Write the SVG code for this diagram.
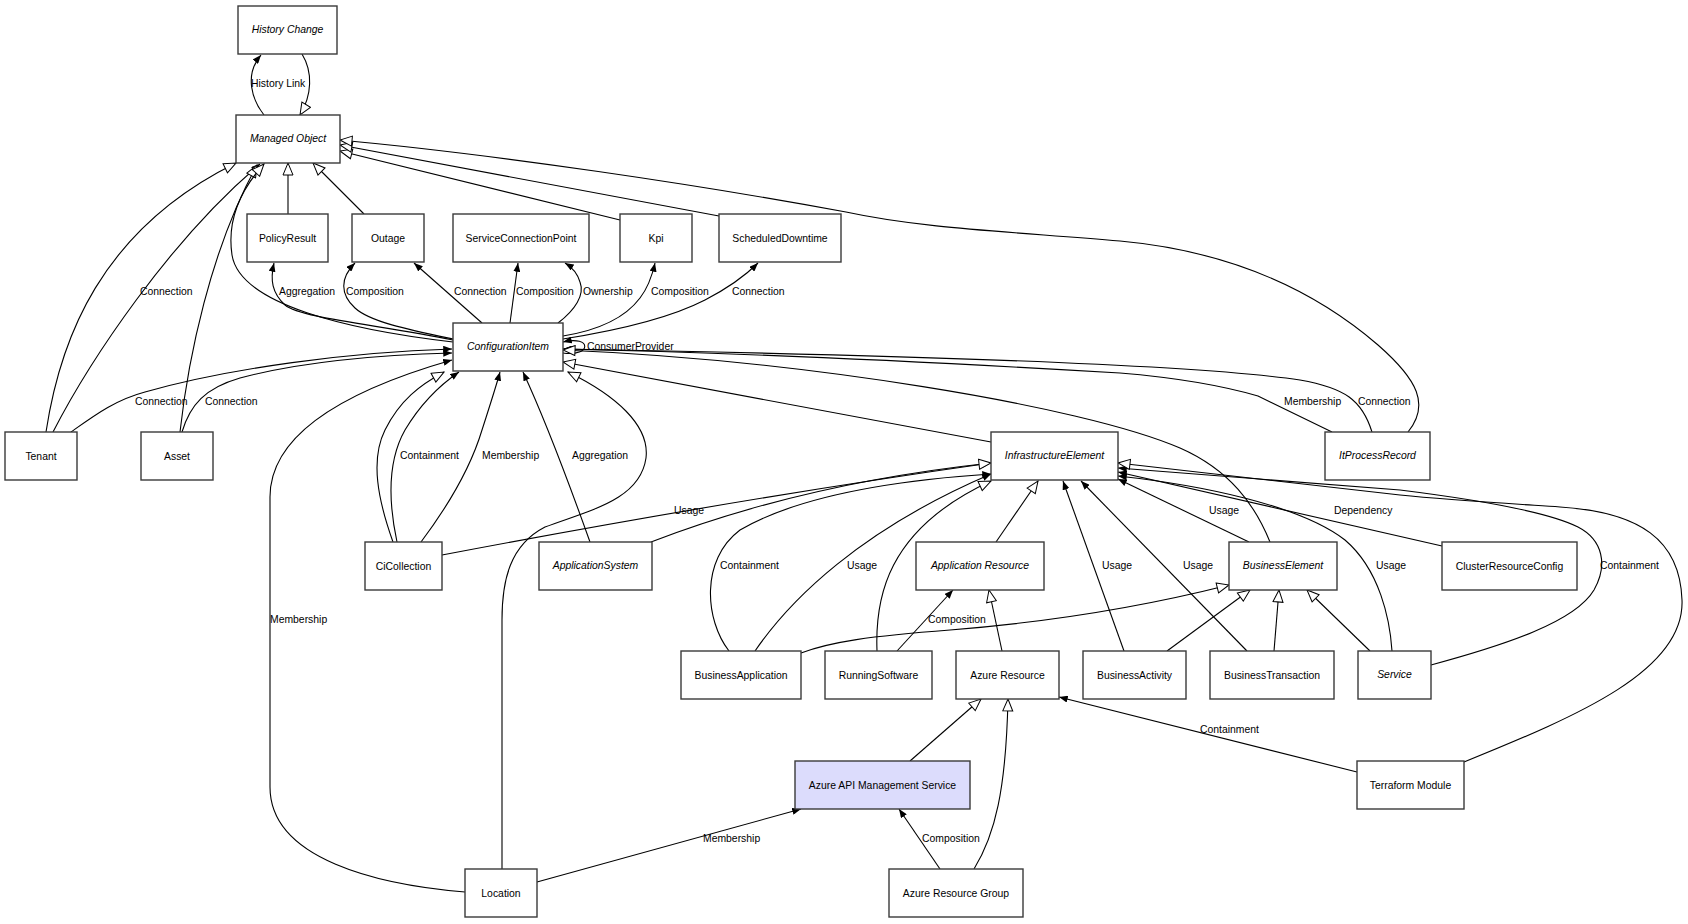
<svg xmlns="http://www.w3.org/2000/svg" width="1688" height="924" viewBox="0 0 1688 924">
<style>
.n rect{fill:#fff;stroke:#3a3a3a;stroke-width:1.4}
.n text{font-family:"Liberation Sans",Arial,sans-serif;font-size:10.4px;fill:#000;text-anchor:middle}
.n text.i{font-style:italic}
#edges path{fill:none;stroke:#000;stroke-width:1.1}
.f{marker-end:url(#a)}
.g{marker-end:url(#g)}
.l{font-family:"Liberation Sans",Arial,sans-serif;font-size:10.4px;fill:#000}
</style>
<defs>
<marker id="a" viewBox="0 0 10 8" refX="10" refY="4" markerWidth="9" markerHeight="7" orient="auto" markerUnits="userSpaceOnUse"><path d="M0,0 L10,4 L0,8 z" fill="#000"/></marker>
<marker id="g" viewBox="0 0 14 12" refX="13" refY="6" markerWidth="14" markerHeight="12" orient="auto" markerUnits="userSpaceOnUse"><path d="M1,1 L13,6 L1,11 z" fill="#fff" stroke="#000" stroke-width="1"/></marker>
</defs>
<rect width="1688" height="924" fill="#fff"/>
<g id="edges">
<path class="f" d="M264,115 C252,100 244,75 261,55"/>
<path class="g" d="M302,54 C313,72 312,95 300,115"/>
<path class="g" d="M288,214 L288,163"/>
<path class="g" d="M364,214 L313,163"/>
<path class="g" d="M620,220 L340,151"/>
<path class="g" d="M719,216 L340,145"/>
<path class="g" d="M1408,432 C1430,405 1418,380 1378,345 C1320,295 1240,252 1120,241 C1000,231 920,228 846,212 C700,185 500,155 340,140"/>
<path class="g" d="M46,432 C60,340 100,230 236,163"/>
<path class="f" d="M53,432 C90,360 170,240 260,164"/>
<path class="g" d="M180,432 C188,360 210,250 257,165"/>
<path class="g" d="M453,342 C350,330 240,305 232,255 C226,215 245,185 264,164"/>
<path class="f" d="M453,340 C380,325 300,318 285,305 C272,293 270,280 274,263"/>
<path class="f" d="M453,339 C410,330 370,322 355,308 C340,294 340,278 355,263"/>
<path class="f" d="M482,323 L414,263"/>
<path class="f" d="M510,323 L518,263"/>
<path class="f" d="M558,323 C575,310 585,295 580,282 C577,272 570,266 565,263"/>
<path class="f" d="M563,336 C600,330 625,318 640,298 C650,285 653,272 655,263"/>
<path class="f" d="M563,339 C620,330 670,318 705,300 C730,287 748,273 758,263"/>
<path class="f" d="M563,353 C592,357 592,335 563,342"/>
<path class="f" d="M1372,432 C1362,400 1345,388 1300,380 C1200,365 900,355 563,349"/>
<path class="f" d="M1332,432 L1258,396 C1220,385 1180,378 1120,373 C900,360 700,352 563,349"/>
<path class="g" d="M1270,542 C1255,505 1230,470 1180,448 C1080,405 800,360 563,350"/>
<path class="g" d="M991,442 L563,362"/>
<path class="g" d="M502,869 L502,620 C502,580 510,545 545,527 C590,510 640,500 646,458 C650,425 615,395 568,372"/>
<path class="f" d="M590,542 C575,500 550,430 523,372"/>
<path class="g" d="M393,542 C378,500 370,460 385,430 C400,400 420,385 444,372"/>
<path class="f" d="M397,542 C388,500 388,460 405,430 C420,405 440,385 459,372"/>
<path class="f" d="M421,542 C445,510 470,470 482,430 C490,405 495,390 500,372"/>
<path class="f" d="M71,432 C95,415 115,400 145,392 C230,368 350,352 452,349"/>
<path class="f" d="M182,432 C190,405 205,388 240,378 C300,362 380,355 452,353"/>
<path class="f" d="M465,892 C380,885 270,860 270,787 L270,497 C270,440 330,395 452,360"/>
<path class="f" d="M442,555 C600,525 800,490 991,463"/>
<path class="g" d="M651,542 C760,500 880,475 991,463"/>
<path class="f" d="M729,651 C705,620 700,560 740,530 C800,495 900,480 991,474"/>
<path class="f" d="M755,651 C790,600 860,530 991,474"/>
<path class="g" d="M877,651 C875,600 885,530 991,481"/>
<path class="g" d="M996,542 L1038,481"/>
<path class="g" d="M1002,651 L989,590"/>
<path class="f" d="M897,651 L953,590"/>
<path class="f" d="M1124,651 L1063,481"/>
<path class="f" d="M1247,651 L1081,481"/>
<path class="f" d="M1249,542 L1118,479"/>
<path class="f" d="M1392,651 C1390,620 1380,570 1345,540 C1300,505 1200,485 1118,476"/>
<path class="f" d="M1442,546 L1118,472"/>
<path class="f" d="M1431,665 C1505,645 1575,622 1594,590 C1608,565 1603,540 1578,527 C1548,512 1480,500 1400,490 L1118,468"/>
<path class="g" d="M1464,762 C1580,715 1685,670 1682,600 C1680,540 1640,512 1560,507 C1500,503 1450,500 1400,495 L1118,463"/>
<path class="f" d="M1357,772 L1059,697"/>
<path class="g" d="M801,653 C830,642 870,636 950,630 C1050,622 1150,605 1229,585"/>
<path class="g" d="M1167,651 L1250,590"/>
<path class="g" d="M1274,651 L1279,590"/>
<path class="g" d="M1370,651 L1307,590"/>
<path class="g" d="M910,761 L981,699"/>
<path class="g" d="M974,869 C995,835 1006,790 1008,699"/>
<path class="f" d="M940,869 L899,809"/>
<path class="f" d="M537,882 L801,809"/>
</g>
<g id="labels">
<text class="l" x="251" y="87">History Link</text>
<text class="l" x="140" y="295">Connection</text>
<text class="l" x="279" y="295">Aggregation</text>
<text class="l" x="346" y="295">Composition</text>
<text class="l" x="454" y="295">Connection</text>
<text class="l" x="516" y="295">Composition</text>
<text class="l" x="583" y="295">Ownership</text>
<text class="l" x="651" y="295">Composition</text>
<text class="l" x="732" y="295">Connection</text>
<text class="l" x="587" y="350">ConsumerProvider</text>
<text class="l" x="135" y="405">Connection</text>
<text class="l" x="205" y="405">Connection</text>
<text class="l" x="1284" y="405">Membership</text>
<text class="l" x="1358" y="405">Connection</text>
<text class="l" x="400" y="459">Containment</text>
<text class="l" x="482" y="459">Membership</text>
<text class="l" x="572" y="459">Aggregation</text>
<text class="l" x="674" y="514">Usage</text>
<text class="l" x="1209" y="514">Usage</text>
<text class="l" x="1334" y="514">Dependency</text>
<text class="l" x="720" y="569">Containment</text>
<text class="l" x="847" y="569">Usage</text>
<text class="l" x="1102" y="569">Usage</text>
<text class="l" x="1183" y="569">Usage</text>
<text class="l" x="1376" y="569">Usage</text>
<text class="l" x="1600" y="569">Containment</text>
<text class="l" x="270" y="623">Membership</text>
<text class="l" x="928" y="623">Composition</text>
<text class="l" x="1200" y="733">Containment</text>
<text class="l" x="703" y="842">Membership</text>
<text class="l" x="922" y="842">Composition</text>
</g>
<g id="n-hc" class="n"><rect x="238" y="6" width="99" height="48"/><text class="i" x="287.5" y="32.5">History Change</text></g>
<g id="n-mo" class="n"><rect x="236" y="115" width="104" height="48"/><text class="i" x="288" y="141.5">Managed Object</text></g>
<g id="n-pr" class="n"><rect x="247" y="214" width="81" height="48"/><text x="287.5" y="241.5">PolicyResult</text></g>
<g id="n-ou" class="n"><rect x="352" y="214" width="72" height="48"/><text x="388" y="241.5">Outage</text></g>
<g id="n-scp" class="n"><rect x="453" y="214" width="136" height="48"/><text x="521" y="241.5">ServiceConnectionPoint</text></g>
<g id="n-kpi" class="n"><rect x="620" y="214" width="72" height="48"/><text x="656" y="241.5">Kpi</text></g>
<g id="n-sd" class="n"><rect x="719" y="214" width="122" height="48"/><text x="780" y="241.5">ScheduledDowntime</text></g>
<g id="n-ci" class="n"><rect x="453" y="323" width="110" height="48"/><text class="i" x="508" y="349.5">ConfigurationItem</text></g>
<g id="n-ten" class="n"><rect x="5" y="432" width="72" height="48"/><text x="41" y="459.5">Tenant</text></g>
<g id="n-as" class="n"><rect x="141" y="432" width="72" height="48"/><text x="177" y="459.5">Asset</text></g>
<g id="n-ie" class="n"><rect x="991" y="432" width="127" height="48"/><text class="i" x="1054.5" y="458.5">InfrastructureElement</text></g>
<g id="n-ipr" class="n"><rect x="1325" y="432" width="105" height="48"/><text class="i" x="1377.5" y="458.5">ItProcessRecord</text></g>
<g id="n-cic" class="n"><rect x="365" y="542" width="77" height="48"/><text x="403.5" y="569.5">CiCollection</text></g>
<g id="n-aps" class="n"><rect x="539" y="542" width="113" height="48"/><text class="i" x="595.5" y="568.5">ApplicationSystem</text></g>
<g id="n-ar" class="n"><rect x="916" y="542" width="128" height="48"/><text class="i" x="980" y="568.5">Application Resource</text></g>
<g id="n-be" class="n"><rect x="1229" y="542" width="108" height="48"/><text class="i" x="1283" y="568.5">BusinessElement</text></g>
<g id="n-crc" class="n"><rect x="1442" y="542" width="135" height="48"/><text x="1509.5" y="569.5">ClusterResourceConfig</text></g>
<g id="n-ba" class="n"><rect x="681" y="651" width="120" height="48"/><text x="741" y="678.5">BusinessApplication</text></g>
<g id="n-rs" class="n"><rect x="825" y="651" width="107" height="48"/><text x="878.5" y="678.5">RunningSoftware</text></g>
<g id="n-azr" class="n"><rect x="956" y="651" width="103" height="48"/><text x="1007.5" y="678.5">Azure Resource</text></g>
<g id="n-bac" class="n"><rect x="1083" y="651" width="103" height="48"/><text x="1134.5" y="678.5">BusinessActivity</text></g>
<g id="n-bt" class="n"><rect x="1210" y="651" width="124" height="48"/><text x="1272" y="678.5">BusinessTransaction</text></g>
<g id="n-svc" class="n"><rect x="1358" y="651" width="73" height="48"/><text class="i" x="1394.5" y="677.5">Service</text></g>
<g id="n-aams" class="n"><rect x="795" y="761" width="175" height="48" style="fill:#dcdcfc"/><text x="882.5" y="788.5">Azure API Management Service</text></g>
<g id="n-tm" class="n"><rect x="1357" y="761" width="107" height="48"/><text x="1410.5" y="788.5">Terraform Module</text></g>
<g id="n-loc" class="n"><rect x="465" y="869" width="72" height="48"/><text x="501" y="896.5">Location</text></g>
<g id="n-arg" class="n"><rect x="889" y="869" width="134" height="48"/><text x="956" y="896.5">Azure Resource Group</text></g>
</svg>
